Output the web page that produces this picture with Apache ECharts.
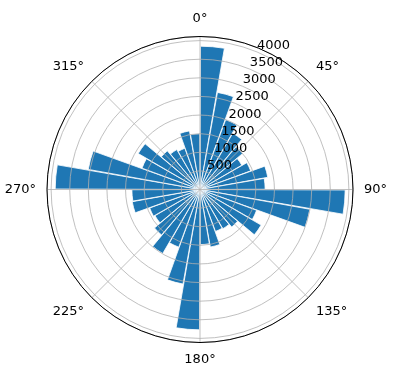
<!DOCTYPE html>
<html>
<head>
<meta charset="utf-8">
<script src="https://cdn.jsdelivr.net/npm/echarts@6/dist/echarts.min.js"></script>
<style>
html,body{margin:0;padding:0;background:#fff;}
#chart{width:396px;height:380px;}
</style>
</head>
<body>
<div id="chart"></div>
<script>
// sector start angles (degrees, clockwise from north)
const sectorStarts = [0,10,20,30,40,50,60,70,80,90,100,110,120,130,140,150,160,170,
                      180,190,200,210,220,230,240,250,260,270,280,290,300,310,320,330,340,350];
// bar heights
const counts = [3850,2650,2000,1750,1500,1300,1450,1850,1750,
                3900,3000,1620,1900,1320,1220,1200,1570,1480,
                3770,2580,1650,1990,1600,1400,1440,1850,1830,
                3890,3050,1660,1920,1360,1240,1180,1600,1500];
// angle tick values and labels
const angleTicks = [0,45,90,135,180,225,270,315];
const angleTickLabels = ['0°','45°','90°','135°','180°','225°','270°','315°'];
// radial tick labels
const radialTicks = [500,1000,1500,2000,2500,3000,3500,4000];
const rMax = 4110;

const FONT = 'DejaVu Sans';
const center = [200, 189.5];
const radius = 153;

const chart = echarts.init(document.getElementById('chart'), null, {renderer:'canvas'});
chart.setOption({
  animation:false,
  backgroundColor:'#ffffff',
  polar:[
    {center:center, radius:radius},
    {center:center, radius:radius},
    {center:center, radius:radius}
  ],
  angleAxis:[
    {polarIndex:0, type:'category', data:sectorStarts.map(String), startAngle:90, clockwise:true,
     boundaryGap:true,
     axisLine:{show:false}, axisTick:{show:false}, axisLabel:{show:false}, splitLine:{show:false}},
    {polarIndex:1, type:'value', min:0, max:360, interval:45, startAngle:90, clockwise:true, z:5,
     axisLine:{show:true, lineStyle:{color:'#000', width:1}},
     axisTick:{show:false},
     axisLabel:{show:true, margin:11, color:'#000', fontSize:13, fontFamily:FONT,
       formatter:function(v){const i=angleTicks.indexOf(v); return i>=0?angleTickLabels[i]:'';}},
     splitLine:{show:true, lineStyle:{color:'#b0b0b0', width:0.8}}},
    {polarIndex:2, type:'value', min:0, max:360, startAngle:67.5, clockwise:true,
     axisLine:{show:false}, axisTick:{show:false}, axisLabel:{show:false}, splitLine:{show:false}}
  ],
  radiusAxis:[
    {polarIndex:0, type:'value', min:0, max:rMax,
     axisLine:{show:false}, axisTick:{show:false}, axisLabel:{show:false}, splitLine:{show:false}},
    {polarIndex:1, type:'value', min:0, max:rMax, interval:500, z:5,
     axisLine:{show:false}, axisTick:{show:false}, axisLabel:{show:false},
     splitLine:{show:true, lineStyle:{color:'#b0b0b0', width:0.8}}},
    {polarIndex:2, type:'value', min:0, max:rMax, interval:500, z:6,
     axisLine:{show:false}, axisTick:{show:false}, splitLine:{show:false},
     axisLabel:{show:true, margin:0, align:'left', verticalAlign:'bottom', color:'#000',
       fontSize:13, fontFamily:FONT,
       formatter:function(v){return radialTicks.indexOf(v)>=0?String(v):'';}}}
  ],
  series:[{
    type:'bar', coordinateSystem:'polar', polarIndex:0,
    data:counts, barCategoryGap:'4%',
    itemStyle:{color:'#1f77b4', borderColor:'#ffffff', borderWidth:0.8},
    z:2
  }]
});
</script>
</body>
</html>
